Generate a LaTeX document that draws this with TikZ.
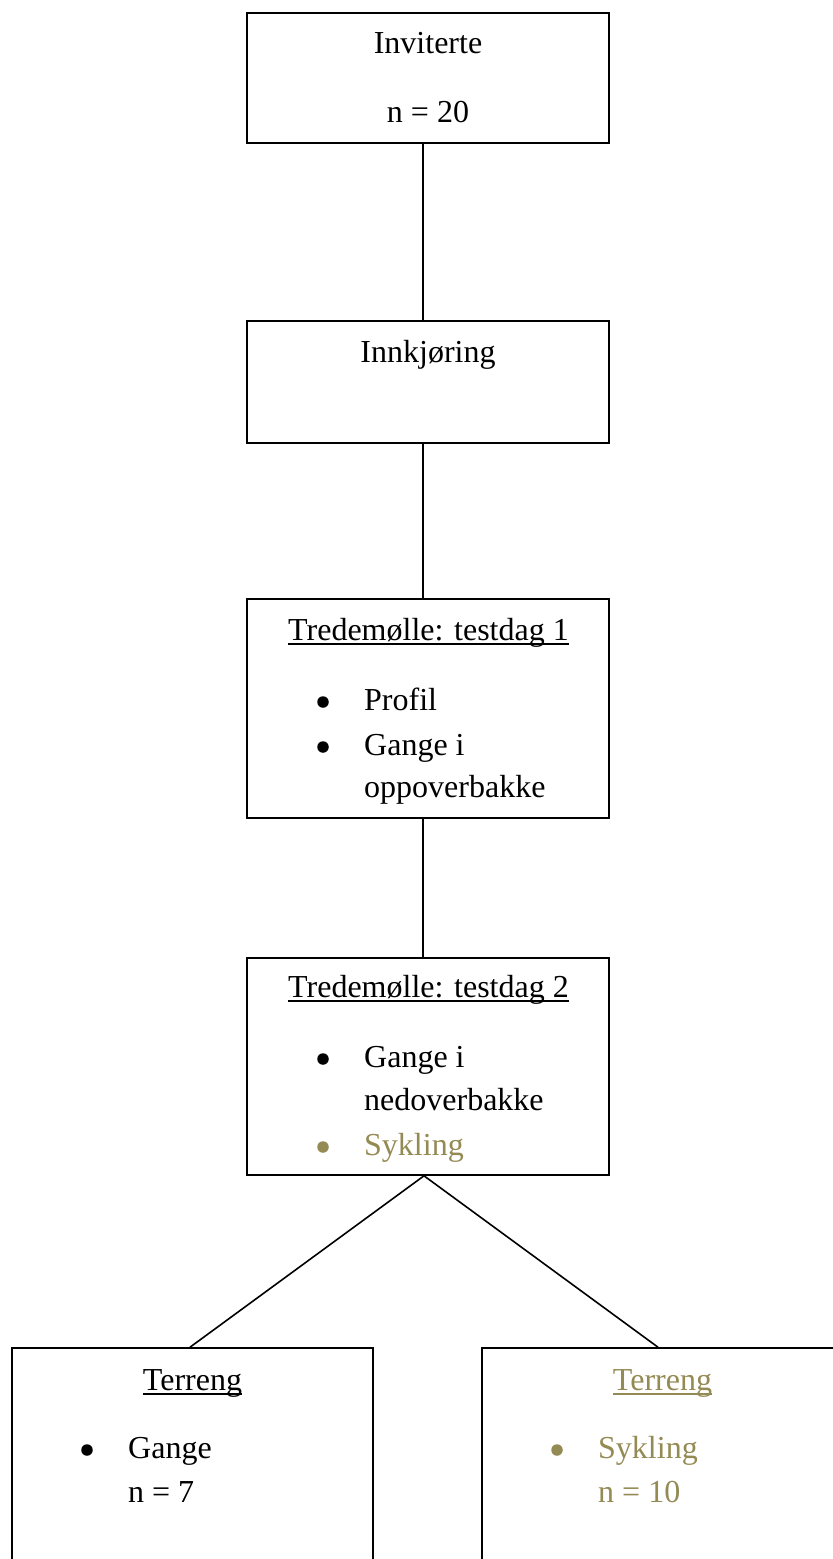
\documentclass[tikz,border=0pt]{standalone}
\usepackage{fontspec}
\setmainfont{Liberation Serif}
\definecolor{tanolive}{HTML}{948A54}
\newcommand\myul[1]{\setbox0\hbox{#1}\rlap{\vrule width\wd0 height -2.5pt depth 4.5pt}\box0}
\tikzset{
  boxnode/.style={draw=black, line width=1.6pt, rectangle, inner sep=0pt, fill=none},
  txt/.style={anchor=base, inner sep=0pt, font=\fontsize{32}{38}\selectfont},
  txtw/.style={anchor=base west, inner sep=0pt, font=\fontsize{32}{38}\selectfont},
  dot/.style={circle, fill=black, inner sep=0pt, minimum size=11.5pt},
  link/.style={draw=black, line width=1.6pt},
  olive/.style={text=tanolive},
  olivedot/.style={fill=tanolive}
}
\begin{document}
\begin{tikzpicture}[x=1pt,y=-1pt]
\useasboundingbox (0,0) rectangle (833,1559);
\clip (0,0) rectangle (833,1559);
\fill[white] (0,0) rectangle (833,1559);

% boxes
\node[boxnode, minimum width=362pt, minimum height=130pt] (b1) at (428,78) {};
\node[boxnode, minimum width=362pt, minimum height=122pt] (b2) at (428,382) {};
\node[boxnode, minimum width=362pt, minimum height=219pt] (b3) at (428,708.5) {};
\node[boxnode, minimum width=362pt, minimum height=217pt] (b4) at (428,1066.5) {};
\node[boxnode, minimum width=361pt, minimum height=272pt] (b5) at (192.5,1484) {};
\node[boxnode, minimum width=361pt, minimum height=272pt] (b6) at (662.5,1484) {};

% connectors
\draw[link] ([xshift=-5pt]b1.south) -- ([xshift=-5pt]b2.north);
\draw[link] ([xshift=-5pt]b2.south) -- ([xshift=-5pt]b3.north);
\draw[link] ([xshift=-5pt]b3.south) -- ([xshift=-5pt]b4.north);
\draw[link] ([xshift=-4pt]b4.south) -- ([xshift=-2.5pt]b5.north);
\draw[link] ([xshift=-4pt]b4.south) -- ([xshift=-4.5pt]b6.north);

% box 1
\node[txt] (t1a) at (428,53) {Inviterte};
\node[txt] (t1b) at (428,122) {n = 20};
% box 2
\node[txt] (t2a) at (428,362) {Innkjøring};
% box 3
\node[txt] (t3a) at (428.5,640) {\myul{Tredemølle: testdag 1}};
\node[dot] (t3b) at (323,702) {};
\node[txtw] (t3c) at (364,710) {Profil};
\node[dot] (t3d) at (323,747) {};
\node[txtw] (t3e) at (364,755) {Gange i};
\node[txtw] (t3f) at (364,797) {oppoverbakke};
% box 4
\node[txt] (t4a) at (428.5,997) {\myul{Tredemølle: testdag 2}};
\node[dot] (t4b) at (323,1059) {};
\node[txtw] (t4c) at (364,1067) {Gange i};
\node[txtw] (t4d) at (364,1110) {nedoverbakke};
\node[dot, olivedot] (t4e) at (323,1147) {};
\node[txtw, olive] (t4f) at (364,1155) {Sykling};
% box 5
\node[txt] (t5a) at (192.5,1390) {\myul{Terreng}};
\node[dot] (t5b) at (87,1450) {};
\node[txtw] (t5c) at (128,1458) {Gange};
\node[txtw] (t5d) at (128,1502) {n = 7};
% box 6
\node[txt, olive] (t6a) at (662.5,1390) {\myul{Terreng}};
\node[dot, olivedot] (t6b) at (557,1450) {};
\node[txtw, olive] (t6c) at (598,1458) {Sykling};
\node[txtw, olive] (t6d) at (598,1502) {n = 10};
\end{tikzpicture}
\end{document}
